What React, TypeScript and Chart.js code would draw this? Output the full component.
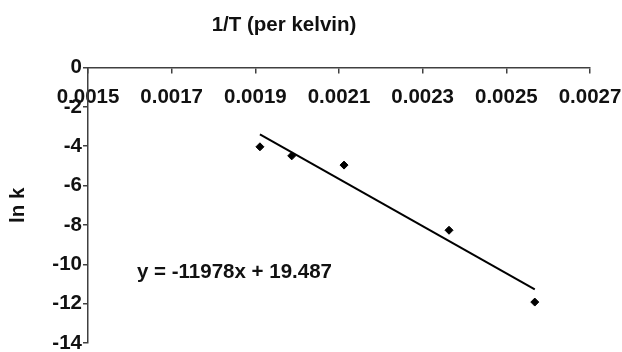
import React, { useEffect, useRef } from "react";
import { Chart, registerables } from "chart.js";

Chart.register(...registerables);

// Data
const invT = [0.001911, 0.001987, 0.002112, 0.002363, 0.002568];
const lnK = [-4.03, -4.49, -4.96, -8.27, -11.92];

// Trendline (from the displayed equation)
const slope = -11978;
const intercept = 19.487;
const trendX = [0.001911, 0.002568];

const xTicks = [0.0015, 0.0017, 0.0019, 0.0021, 0.0023, 0.0025, 0.0027];
const xTickLabels = ["0.0015", "0.0017", "0.0019", "0.0021", "0.0023", "0.0025", "0.0027"];
const yTicks = [0, -2, -4, -6, -8, -10, -12, -14];
const yTickLabels = ["0", "-2", "-4", "-6", "-8", "-10", "-12", "-14"];

const titleText = "1/T (per kelvin)";
const yTitleText = "ln k";
const equationText = "y = -11978x + 19.487";

const FONT_FAMILY = "'Liberation Sans', Arial, sans-serif";
const FONT_SIZE = 20.5;

export default function App() {
  const canvasRef = useRef<HTMLCanvasElement | null>(null);

  useEffect(() => {
    const canvas = canvasRef.current;
    if (!canvas) return;

    const textPlugin = {
      id: "textPlugin",
      afterDraw(chart: any) {
        const ctx = chart.ctx;
        ctx.save();
        ctx.fillStyle = "#111";
        ctx.font = `bold ${FONT_SIZE}px ${FONT_FAMILY}`;
        ctx.textBaseline = "middle";
        ctx.textAlign = "center";
        ctx.fillText(titleText, 284, 25);
        ctx.textAlign = "left";
        ctx.fillText(equationText, 137, 272);
        ctx.restore();
      },
    };

    const chart = new Chart(canvas, {
      type: "scatter",
      data: {
        datasets: [
          {
            type: "scatter",
            label: "ln k",
            data: invT.map((x, i) => ({ x, y: lnK[i] })),
            backgroundColor: "#000",
            borderColor: "#000",
            pointStyle: "rectRot",
            pointRadius: 4,
            order: 1,
          },
          {
            type: "line",
            label: "trend",
            data: trendX.map((x) => ({ x, y: slope * x + intercept })),
            borderColor: "#000",
            borderWidth: 2,
            pointRadius: 0,
            fill: false,
            order: 2,
          } as any,
        ],
      },
      options: {
        animation: false,
        responsive: true,
        maintainAspectRatio: false,
        layout: { padding: { top: 67.5, bottom: 9, left: 0, right: 32 } },
        plugins: {
          legend: { display: false },
          tooltip: { enabled: false },
          title: { display: false },
        },
        scales: {
          x: {
            type: "linear",
            position: { y: 0 } as any,
            min: 0.0015,
            max: 0.0027,
            afterBuildTicks: (scale: any) => {
              scale.ticks = xTicks.map((v) => ({ value: v }));
            },
            afterFit: (scale: any) => {
              scale.paddingLeft = 0;
              scale.paddingRight = 0;
            },
            ticks: {
              autoSkip: false,
              maxRotation: 0,
              padding: 13,
              color: "#111",
              font: { family: FONT_FAMILY, size: FONT_SIZE, weight: "bold" },
              callback: (_v: any, i: number) => xTickLabels[i],
            },
            grid: {
              drawOnChartArea: false,
              drawTicks: true,
              tickLength: 5,
              color: "#404040",
              lineWidth: 1.5,
            },
            border: { display: true, color: "#404040", width: 1.5 },
          },
          y: {
            type: "linear",
            position: "left",
            min: -14,
            max: 0,
            afterBuildTicks: (scale: any) => {
              scale.ticks = yTicks.map((v) => ({ value: v }));
            },
            afterFit: (scale: any) => {
              scale.width = 88;
              scale.paddingTop = 0;
              scale.paddingBottom = 0;
            },
            ticks: {
              autoSkip: false,
              padding: 1,
              color: "#111",
              font: { family: FONT_FAMILY, size: FONT_SIZE, weight: "bold" },
              callback: (_v: any, i: number) => yTickLabels[i],
            },
            title: {
              display: true,
              text: yTitleText,
              color: "#111",
              font: { family: FONT_FAMILY, size: FONT_SIZE, weight: "bold" },
              padding: { top: 6, bottom: 0 },
            },
            grid: {
              drawOnChartArea: false,
              drawTicks: true,
              tickLength: 5,
              color: "#404040",
              lineWidth: 1.5,
            },
            border: { display: true, color: "#404040", width: 1.5 },
          },
        },
      },
      plugins: [textPlugin],
    });

    return () => chart.destroy();
  }, []);

  return (
    <div style={{ position: "absolute", left: 0, top: 0, width: 622, height: 352, background: "#fff" }}>
      <canvas ref={canvasRef} />
    </div>
  );
}
